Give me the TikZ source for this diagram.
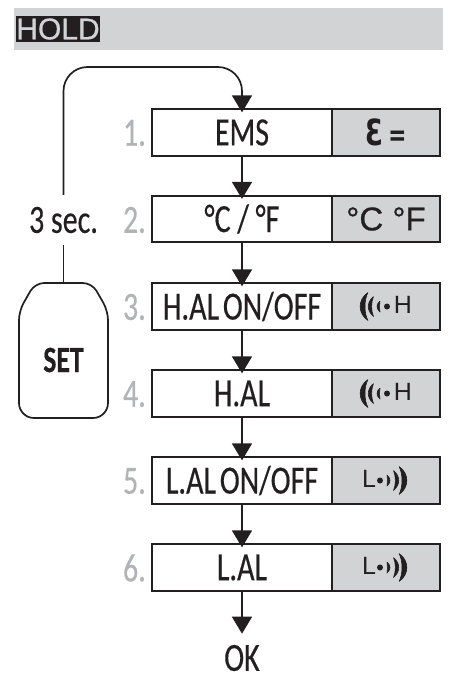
\documentclass[tikz,border=0pt]{standalone}
\usepackage{fontspec}
\setmainfont[FakeStretch=0.75,FakeBold=0.35,WordSpace=0.55]{Carlito}
\newfontfamily\holdfont[FakeBold=0.6]{Liberation Sans}
\newfontfamily\plainfont{Liberation Sans}
\newfontfamily\epsfont[FakeStretch=0.72]{DejaVu Sans Bold}
\usetikzlibrary{arrows.meta}
\definecolor{panel}{HTML}{D1D3D4}
\definecolor{ink}{HTML}{231F20}
\definecolor{stepgrey}{HTML}{B1B3B6}
\tikzset{
  stepbox/.style={draw=ink,line width=1.8pt,text=ink,minimum width=179.5pt,
    minimum height=46.5pt,inner sep=0pt,font=\fontsize{40}{40}\selectfont},
  iconbox/.style={draw=ink,line width=1.8pt,fill=panel,text=ink,minimum width=108.5pt,
    minimum height=46.5pt,inner sep=0pt},
  stepnum/.style={text=stepgrey,anchor=east,inner sep=0pt,font=\fontsize{40}{40}\selectfont},
  iconletter/.style={font=\plainfont\fontsize{25}{25}\selectfont,text=ink,inner sep=0pt},
  flow/.style={draw=ink,line width=1.7pt,-{Triangle[width=20pt,length=17pt]},shorten >=-4pt},
  wave/.style={fill=ink,draw=ink,line width=0.6pt,line join=round},
  highicon/.pic={
    \filldraw[wave] (0,-14) .. controls (-10.5,-7) and (-10.5,7) .. (0,14)
      .. controls (-4,7) and (-4,-7) .. (0,-14);
    \filldraw[wave] (5.5,-10) .. controls (-1.5,-4) and (-1.5,4) .. (5.5,10)
      .. controls (3,4) and (3,-4) .. (5.5,-10);
    \filldraw[wave] (12,-5.5) .. controls (8,-2) and (8,2) .. (12,5.5)
      .. controls (11.5,2) and (11.5,-2) .. (12,-5.5);
    \fill[ink] (19,0) circle (3);
  }
}
\begin{document}
\begin{tikzpicture}[x=1pt,y=-1pt]
  \useasboundingbox (0,0) rectangle (450,673);
  % header
  \node[fill=panel,minimum width=429pt,minimum height=42pt,inner sep=0pt]
    (band) at (228.5,29) {};
  \node[fill=ink,text=panel,minimum width=80pt,minimum height=26pt,inner sep=0pt,
        font=\holdfont\fontsize{30}{30}\selectfont]
    (hold) at (58,29) {HOLD};
  % steps
  \node[stepbox] (ems) at (242,132.5) {EMS};
  \node[stepbox] (unit) at (242,219) {°C\,/\,°F};
  \node[stepbox] (halsw) at (242,306.5) {H.AL ON/OFF};
  \node[stepbox] (hal) at (242,393.5) {H.AL};
  \node[stepbox] (lalsw) at (242,480.5) {L.AL ON/OFF};
  \node[stepbox] (lal) at (242,567.5) {L.AL};
  \node[iconbox,font=\epsfont\fontsize{36}{36}\selectfont] (emsicon) at (386,132.5)
    {Ɛ{\fontsize{30}{30}\selectfont\,=}};
  \node[iconbox,font=\holdfont\fontsize{33}{33}\selectfont] (uniticon) at (386,219) {°C °F};
  \node[iconbox] (halswicon) at (386,306.5) {};
  \node[iconbox] (halicon) at (386,393.5) {};
  \node[iconbox] (lalswicon) at (386,480.5) {};
  \node[iconbox] (lalicon) at (386,567.5) {};
  \pic at (368,306.5) {highicon};
  \pic at (368,393.5) {highicon};
  \pic[xscale=-1] at (399,480.5) {highicon};
  \pic[xscale=-1] at (399,567.5) {highicon};
  \node[iconletter] (hh1) at (403,304.5) {H};
  \node[iconletter] (hh2) at (403,391.5) {H};
  \node[iconletter] (ll1) at (369,478.5) {L};
  \node[iconletter] (ll2) at (369,565.5) {L};
  % numbers
  \node[stepnum] (n1) at (146,133) {1.};
  \node[stepnum] (n2) at (146,220) {2.};
  \node[stepnum] (n3) at (146,307) {3.};
  \node[stepnum] (n4) at (146,394) {4.};
  \node[stepnum] (n5) at (146,481) {5.};
  \node[stepnum] (n6) at (146,568) {6.};
  % key
  \draw[draw=ink,line width=1.7pt,rounded corners=9pt]
    (63.5,283) -- (92,283) -- (108,311) [rounded corners=15pt] -- (108,418)
    -- (19,418) [rounded corners=9pt] -- (19,311) -- (35,283) -- cycle;
  \node[font=\bfseries\fontsize{37}{37}\selectfont,text=ink,inner sep=0pt] (setkey) at (63.5,360) {SET};
  \coordinate (keytop) at (63.5,283);
  \node[font=\fontsize{40}{40}\selectfont,text=ink,inner sep=0pt,minimum height=50pt,minimum width=66pt]
    (sec) at (63.5,220) {3\,sec.};
  \node[font=\fontsize{40}{40}\selectfont,text=ink,inner sep=0pt] (ok) at (242,658) {OK};
  % flow
  \draw[draw=ink,line width=1.7pt] (keytop) -- (sec.south);
  \draw[flow,rounded corners=24pt] (sec.north) -- (63.5,67) -- (242,67) -- (ems.north);
  \draw[flow] (ems) -- (unit);
  \draw[flow] (unit) -- (halsw);
  \draw[flow] (halsw) -- (hal);
  \draw[flow] (hal) -- (lalsw);
  \draw[flow] (lalsw) -- (lal);
  \draw[flow,shorten >=11pt] (lal) -- (ok);
\end{tikzpicture}
\end{document}
